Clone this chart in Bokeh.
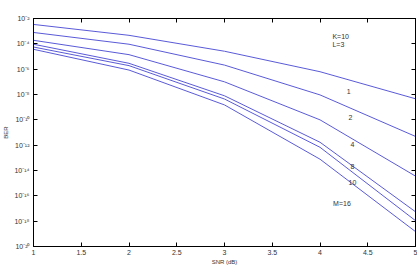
from bokeh.plotting import figure
from bokeh.models import (FixedTicker, LinearAxis, LogAxis, NumeralTickFormatter,
                          CustomJSTickFormatter)
from bokeh.core.properties import value
from bokeh.embed import file_html
from bokeh.resources import INLINE

# ---------------- data ----------------
snr = [1, 2, 3, 4, 5]
ber_m1 = [3.4e-3, 4.7e-4, 2.6e-5, 6.3e-7, 4.6e-9]
ber_m2 = [7.9e-4, 9.3e-5, 2.1e-6, 9.3e-9, 4.9e-12]
ber_m4 = [1.9e-4, 1.4e-5, 1.0e-7, 1.0e-10, 3.6e-15]
ber_m8 = [9.3e-5, 2.9e-6, 7.9e-9, 1.7e-12, 5.5e-18]
ber_m10 = [5.6e-5, 1.9e-6, 4.4e-9, 6.8e-13, 1.1e-18]
ber_m16 = [3.7e-5, 8.5e-7, 1.5e-9, 7.8e-14, 1.5e-19]
series = [ber_m1, ber_m2, ber_m4, ber_m8, ber_m10, ber_m16]

x_ticks = [1, 1.5, 2, 2.5, 3, 3.5, 4, 4.5, 5]
y_ticks = [1e-20, 1e-18, 1e-16, 1e-14, 1e-12, 1e-10, 1e-8, 1e-6, 1e-4, 1e-2]

curve_labels = ["1", "2", "4", "8", "10", "M=16"]
curve_label_x = [4.30, 4.32, 4.34, 4.34, 4.34, 4.23]
curve_label_y = [10**-7.77, 10**-9.85, 10**-11.94, 10**-13.66, 10**-14.93, 10**-16.63]
param_labels = ["K=10", "L=3"]
param_label_x = [4.13, 4.13]
param_label_y = [10**-3.41, 10**-4.03]

# ---------------- figure ----------------
LINE = "#5a5ad8"
TXT = "#333333"
FONT = "Liberation Sans"

p = figure(width=417, height=267, y_axis_type="log",
           x_range=(1, 5), y_range=(1e-20, 1e-2),
           output_backend="svg", toolbar_location=None,
           min_border_left=32, min_border_right=2,
           min_border_top=18, min_border_bottom=19)
p.grid.visible = False
p.outline_line_color = "#000000"
p.outline_line_width = 1
p.background_fill_color = "white"
p.border_fill_color = "white"

for s in series:
    p.line(snr, s, line_color=LINE, line_width=1)

p.text(x=curve_label_x, y=curve_label_y, text=curve_labels,
       text_font=value(FONT), text_font_size="7px", text_color=TXT,
       text_align="center", text_baseline="middle")
p.text(x=param_label_x, y=param_label_y, text=param_labels,
       text_font=value(FONT), text_font_size="7px", text_color=TXT,
       text_align="left", text_baseline="middle")

sup_js = """
const sup = {'0':'\u2070','1':'\u00b9','2':'\u00b2','3':'\u00b3','4':'\u2074',
             '5':'\u2075','6':'\u2076','7':'\u2077','8':'\u2078','9':'\u2079','-':'\u207b'};
const e = Math.round(Math.log10(tick));
let s = '';
for (const c of String(e)) { s += sup[c]; }
return '10' + s;
"""

# x axis (bottom)
xa = p.xaxis[0]
xa.ticker = FixedTicker(ticks=x_ticks)
xa.formatter = NumeralTickFormatter(format="0.[0]")
xa.axis_label = "SNR (dB)"

# y axis (left)
ya = p.yaxis[0]
ya.ticker = FixedTicker(ticks=y_ticks)
ya.formatter = CustomJSTickFormatter(code=sup_js)
ya.axis_label = "BER"

for ax in (xa, ya):
    ax.major_tick_in = 4
    ax.major_tick_out = 0
    ax.minor_tick_line_color = None
    ax.axis_line_color = "#000000"
    ax.major_tick_line_color = "#000000"
    ax.major_label_text_font = FONT
    ax.major_label_text_font_size = "7px"
    ax.major_label_text_color = TXT
    ax.axis_label_text_font = FONT
    ax.axis_label_text_font_size = "6px"
    ax.axis_label_text_font_style = "normal"
    ax.axis_label_text_color = TXT
xa.major_label_standoff = 3
xa.axis_label_standoff = 1
ya.major_label_standoff = 4
ya.axis_label_standoff = 2

# mirrored tick axes (top, right), tick marks only
blank = CustomJSTickFormatter(code="return ' ';")
top = LinearAxis(ticker=FixedTicker(ticks=x_ticks), formatter=blank,
                 major_label_text_font_size="1px", major_label_text_color=None,
                 major_tick_in=4, major_tick_out=0, minor_tick_line_color=None,
                 major_label_standoff=0, axis_line_color="#000000")
right = LogAxis(ticker=FixedTicker(ticks=y_ticks), formatter=blank,
                major_label_text_font_size="1px", major_label_text_color=None,
                major_tick_in=4, major_tick_out=0, minor_tick_line_color=None,
                major_label_standoff=0, axis_line_color="#000000")
p.add_layout(top, "above")
p.add_layout(right, "right")

open("out.html", "w").write(file_html(p, INLINE))
